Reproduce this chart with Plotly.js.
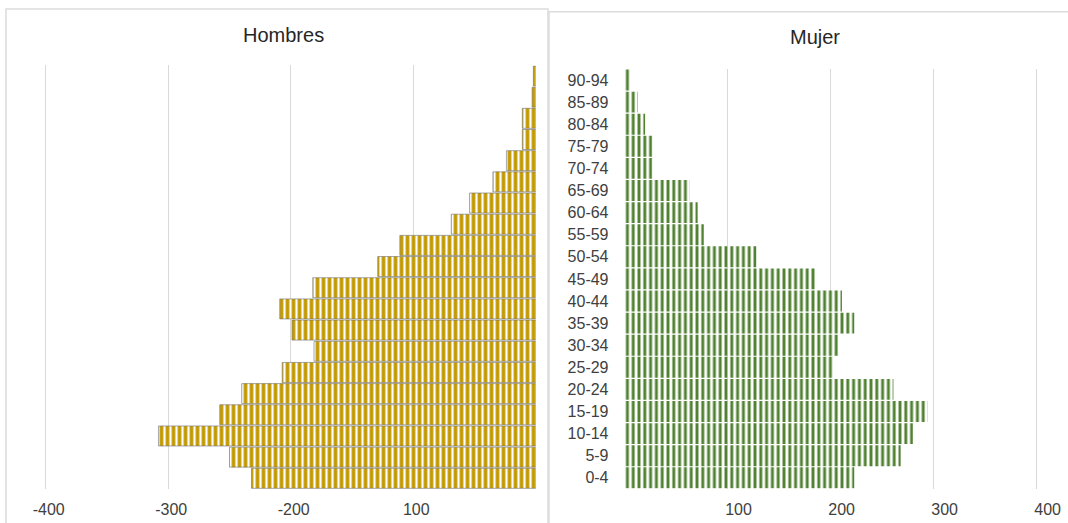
<!DOCTYPE html>
<html>
<head>
<meta charset="utf-8">
<script src="https://cdn.plot.ly/plotly-3.0.1.min.js"></script>
<style>html,body{margin:0;padding:0;background:#fff;}#chart{width:1068px;height:523px;}</style>
</head>
<body>
<div id="chart"></div>
<script>
// Age groups (top to bottom as drawn)
const agesHombres = ['95-99','90-94','85-89','80-84','75-79','70-74','65-69','60-64','55-59','50-54','45-49','40-44','35-39','30-34','25-29','20-24','15-19','10-14','5-9','0-4'];
const hombres = [2,3,11,11,24,35,54,69,111,129,182,209,199,181,207,240,258,308,250,232];

const agesMujer = ['90-94','85-89','80-84','75-79','70-74','65-69','60-64','55-59','50-54','45-49','40-44','35-39','30-34','25-29','20-24','15-19','10-14','5-9','0-4'];
const mujer = [6,13,20,27,27,63,71,77,128,186,211,223,208,203,261,294,280,268,223];

const leftTickVals = [-400,-300,-200,-100];
const leftTickText = ['-400','-300','-200','100'];
const rightTickVals = [0,100,200,300,400];
const rightTickText = ['','100','200','300','400'];

const W = 1068, H = 523;
const px = v => v / W;
const py = v => 1 - v / H;

const FONT = '"Liberation Sans", Arial, sans-serif';

const traces = [
  {
    type: 'bar', orientation: 'h',
    y: agesHombres, x: hombres.map(v => -v),
    xaxis: 'x', yaxis: 'y',
    marker: {
      color: '#ffffff',
      line: {color: 'rgba(110,110,110,0.6)', width: 1},
      pattern: {shape: '|', fgcolor: '#C49A00', bgcolor: '#ffffff', size: 6, solidity: 0.62}
    },
    hoverinfo: 'skip', showlegend: false
  },
  {
    type: 'bar', orientation: 'h',
    y: agesMujer, x: mujer,
    xaxis: 'x2', yaxis: 'y2',
    marker: {
      color: '#ffffff',
      line: {width: 0},
      pattern: {shape: '|', fgcolor: '#4F8130', bgcolor: '#ffffff', size: 5.8, solidity: 0.5}
    },
    hoverinfo: 'skip', showlegend: false
  }
];

const layout = {
  width: W, height: H,
  margin: {l: 0, r: 0, t: 0, b: 0},
  paper_bgcolor: '#ffffff', plot_bgcolor: 'rgba(0,0,0,0)',
  font: {family: FONT, color: '#404040', size: 16},
  bargap: 0.055,
  xaxis: {
    domain: [px(44.5), px(535.8)], range: [-401, 0], anchor: 'y',
    tickvals: leftTickVals, ticktext: leftTickText,
    showgrid: true, gridcolor: '#D9D9D9', gridwidth: 1,
    zeroline: false, showline: false, ticks: '',
    ticklabelstandoff: 9, ticklabelshift: 3,
    tickfont: {size: 16, color: '#404040', family: FONT}
  },
  yaxis: {
    domain: [py(488.9), py(65.4)], anchor: 'x', type: 'category',
    categoryorder: 'array', categoryarray: agesHombres, autorange: 'reversed',
    showticklabels: false, showgrid: false, zeroline: false, showline: false, ticks: ''
  },
  xaxis2: {
    domain: [px(624.5), px(1037.7)], range: [0, 401], anchor: 'y2',
    tickvals: rightTickVals, ticktext: rightTickText,
    showgrid: true, gridcolor: '#D9D9D9', gridwidth: 1,
    zeroline: false, showline: false, ticks: '',
    ticklabelstandoff: 9, ticklabelshift: 11,
    tickfont: {size: 16, color: '#404040', family: FONT}
  },
  yaxis2: {
    domain: [py(488.85), py(68.95)], anchor: 'x2', type: 'category',
    categoryorder: 'array', categoryarray: agesMujer, autorange: 'reversed',
    showgrid: false, zeroline: false, showline: false, ticks: '',
    ticklabelstandoff: 15,
    tickfont: {size: 16, color: '#404040', family: FONT}
  },
  annotations: [
    {text: 'Hombres', xref: 'paper', yref: 'paper', x: px(283.3), y: py(35), xanchor: 'center', yanchor: 'middle', showarrow: false, font: {size: 20, color: '#262626', family: FONT}},
    {text: 'Mujer', xref: 'paper', yref: 'paper', x: px(814.7), y: py(37.3), xanchor: 'center', yanchor: 'middle', showarrow: false, font: {size: 20, color: '#262626', family: FONT}}
  ],
  shapes: [
    {type: 'rect', xref: 'paper', yref: 'paper', x0: px(6), x1: px(548), y0: -0.1, y1: py(9), line: {color: '#DCDCDC', width: 1.5}, fillcolor: 'rgba(0,0,0,0)', layer: 'below'},
    {type: 'rect', xref: 'paper', yref: 'paper', x0: px(549), x1: 1.1, y0: -0.1, y1: py(11.7), line: {color: '#DCDCDC', width: 1.5}, fillcolor: 'rgba(0,0,0,0)', layer: 'below'}
  ]
};

Plotly.newPlot('chart', traces, layout, {staticPlot: true, displayModeBar: false});
</script>
</body>
</html>
